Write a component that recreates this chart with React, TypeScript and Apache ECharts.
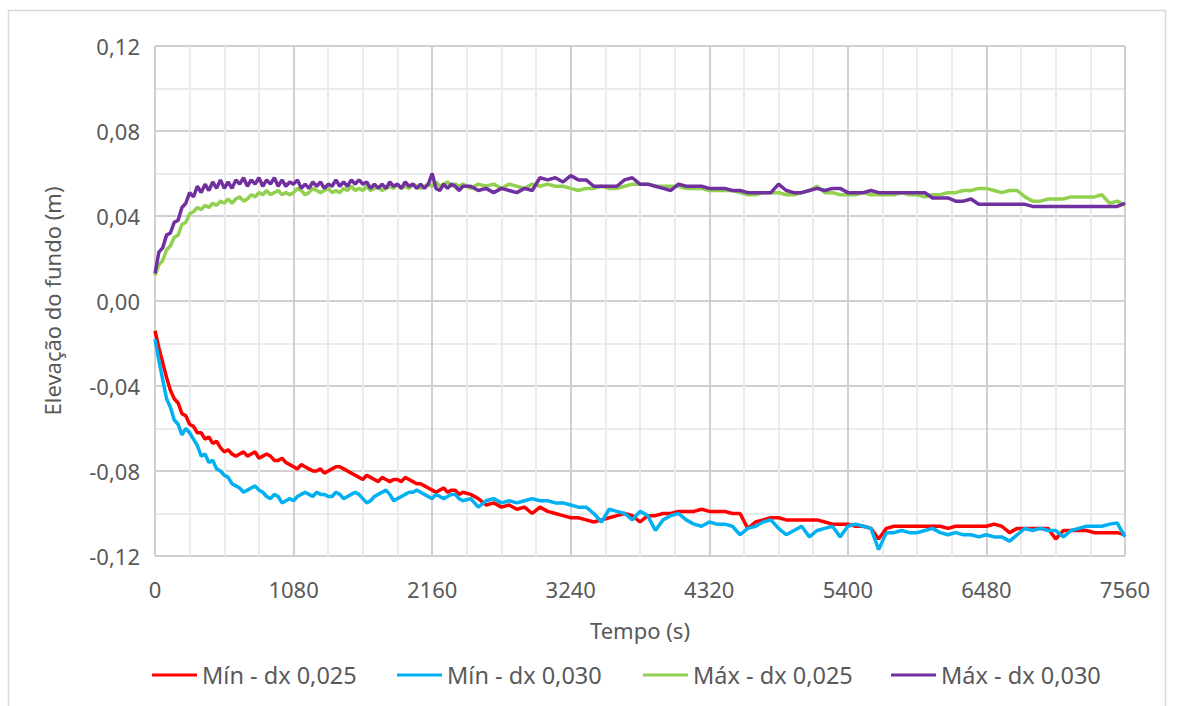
import React, { useEffect, useRef } from "react";
import * as echarts from "echarts";

const times = [
  0, 30, 60, 90, 120, 150, 180, 210, 240, 270, 300, 330, 360, 390, 420, 450, 480, 510, 540, 570, 600,
  630, 660, 690, 720, 750, 780, 810, 840, 870, 900,
  930, 960, 990, 1020, 1050, 1080, 1110, 1140, 1170, 1200,
  1230, 1260, 1290, 1320, 1350, 1380, 1410, 1440, 1470, 1500,
  1530, 1560, 1590, 1620, 1650, 1680, 1710, 1740, 1770, 1800,
  1830, 1860, 1890, 1920, 1950, 1980, 2010, 2040, 2070, 2100,
  2130, 2160, 2190, 2220, 2250, 2280, 2310, 2340, 2370, 2400,
  2460, 2520, 2580, 2640, 2700, 2760, 2820,
  2880, 2940, 3000, 3060, 3120, 3180, 3240, 3300, 3360, 3420, 3480, 3540, 3600, 3660, 3720, 3780, 3840, 3900,
  3960, 4020, 4080, 4140, 4200, 4260, 4320, 4380, 4440, 4500, 4560, 4620, 4680, 4740, 4800, 4860, 4920, 4980,
  5040, 5100, 5160, 5220, 5280, 5340, 5400, 5460, 5520, 5580, 5640, 5700, 5760, 5820, 5880, 5940, 6000, 6060,
  6120, 6180, 6240, 6300, 6360, 6420, 6480, 6540, 6600, 6660, 6720, 6780, 6840, 6900, 6960, 7020, 7080, 7140,
  7200, 7260, 7320, 7380, 7440, 7500, 7560,
];

const minDx025 = [
  -0.014, -0.022, -0.029, -0.036, -0.042, -0.046, -0.048, -0.053, -0.054, -0.058, -0.059, -0.062, -0.062, -0.065, -0.064, -0.067, -0.066, -0.069, -0.071, -0.07, -0.072,
  -0.073, -0.072, -0.071, -0.073, -0.072, -0.071, -0.074, -0.073, -0.072, -0.073,
  -0.075, -0.075, -0.074, -0.076, -0.077, -0.078, -0.079, -0.077, -0.078, -0.079,
  -0.08, -0.08, -0.079, -0.081, -0.08, -0.079, -0.078, -0.078, -0.079, -0.08,
  -0.081, -0.082, -0.083, -0.084, -0.082, -0.083, -0.084, -0.085, -0.083, -0.084,
  -0.085, -0.084, -0.084, -0.085, -0.083, -0.084, -0.085, -0.086, -0.086, -0.087,
  -0.088, -0.089, -0.09, -0.089, -0.088, -0.09, -0.089, -0.089, -0.091, -0.09,
  -0.091, -0.093, -0.096, -0.095, -0.097, -0.096, -0.098,
  -0.097, -0.1, -0.097, -0.099, -0.1, -0.101, -0.102, -0.102, -0.103, -0.104, -0.103, -0.102, -0.101, -0.1, -0.101, -0.104, -0.101, -0.101,
  -0.1, -0.1, -0.099, -0.099, -0.099, -0.098, -0.099, -0.099, -0.099, -0.1, -0.1, -0.107, -0.104, -0.103, -0.102, -0.102, -0.103, -0.103,
  -0.103, -0.103, -0.103, -0.104, -0.105, -0.105, -0.105, -0.106, -0.106, -0.107, -0.112, -0.107, -0.106, -0.106, -0.106, -0.106, -0.106, -0.106,
  -0.106, -0.107, -0.106, -0.106, -0.106, -0.106, -0.106, -0.105, -0.106, -0.109, -0.107, -0.107, -0.107, -0.107, -0.107, -0.112, -0.108, -0.108,
  -0.108, -0.108, -0.109, -0.109, -0.109, -0.109, -0.11,
];

const minDx030 = [
  -0.018, -0.028, -0.037, -0.046, -0.05, -0.056, -0.058, -0.063, -0.06, -0.062, -0.065, -0.068, -0.073, -0.072, -0.076, -0.075, -0.079, -0.08, -0.082, -0.083, -0.086,
  -0.087, -0.088, -0.09, -0.089, -0.088, -0.087, -0.089, -0.09, -0.092, -0.093,
  -0.091, -0.092, -0.095, -0.094, -0.093, -0.094, -0.092, -0.091, -0.09, -0.091,
  -0.092, -0.09, -0.091, -0.091, -0.092, -0.092, -0.09, -0.091, -0.093, -0.092,
  -0.091, -0.09, -0.091, -0.093, -0.095, -0.094, -0.092, -0.091, -0.09, -0.089,
  -0.091, -0.094, -0.093, -0.092, -0.091, -0.09, -0.09, -0.089, -0.09, -0.091,
  -0.092, -0.093, -0.091, -0.092, -0.093, -0.092, -0.091, -0.091, -0.093, -0.094,
  -0.093, -0.097, -0.094, -0.093, -0.095, -0.094, -0.095,
  -0.094, -0.093, -0.094, -0.094, -0.095, -0.095, -0.096, -0.097, -0.097, -0.1, -0.104, -0.098, -0.099, -0.1, -0.103, -0.099, -0.101, -0.108,
  -0.103, -0.101, -0.1, -0.103, -0.105, -0.106, -0.104, -0.105, -0.105, -0.106, -0.11, -0.107, -0.106, -0.104, -0.103, -0.107, -0.11, -0.108,
  -0.106, -0.111, -0.108, -0.107, -0.106, -0.111, -0.106, -0.105, -0.106, -0.107, -0.117, -0.109, -0.109, -0.108, -0.109, -0.109, -0.108, -0.107,
  -0.109, -0.11, -0.109, -0.11, -0.11, -0.111, -0.11, -0.111, -0.111, -0.113, -0.11, -0.107, -0.108, -0.107, -0.108, -0.108, -0.111, -0.108,
  -0.107, -0.106, -0.106, -0.106, -0.105, -0.1045, -0.111,
];

const maxDx025 = [
  0.012, 0.017, 0.019, 0.024, 0.026, 0.03, 0.031, 0.036, 0.037, 0.041, 0.042, 0.044, 0.043, 0.045, 0.044, 0.046, 0.045, 0.047, 0.046, 0.048, 0.046,
  0.048, 0.049, 0.047, 0.048, 0.05, 0.049, 0.051, 0.05, 0.052, 0.05,
  0.051, 0.052, 0.05, 0.051, 0.05, 0.051, 0.053, 0.052, 0.05, 0.051,
  0.053, 0.052, 0.051, 0.052, 0.053, 0.051, 0.052, 0.051, 0.053, 0.052,
  0.054, 0.052, 0.053, 0.052, 0.054, 0.052, 0.053, 0.054, 0.052, 0.053,
  0.054, 0.053, 0.055, 0.053, 0.054, 0.053, 0.055, 0.054, 0.053, 0.054,
  0.055, 0.054, 0.056, 0.054, 0.055, 0.056, 0.054, 0.055, 0.054, 0.055,
  0.053, 0.055, 0.054, 0.055, 0.053, 0.055, 0.054,
  0.053, 0.055, 0.054, 0.055, 0.054, 0.054, 0.053, 0.052, 0.053, 0.053, 0.054, 0.053, 0.053, 0.054, 0.055, 0.055, 0.055, 0.054,
  0.054, 0.054, 0.054, 0.053, 0.053, 0.053, 0.052, 0.052, 0.052, 0.052, 0.051, 0.05, 0.05, 0.051, 0.051, 0.051, 0.05, 0.05,
  0.051, 0.052, 0.054, 0.051, 0.051, 0.05, 0.05, 0.05, 0.051, 0.05, 0.05, 0.05, 0.05, 0.051, 0.05, 0.05, 0.049, 0.05,
  0.05, 0.051, 0.051, 0.052, 0.052, 0.053, 0.053, 0.052, 0.051, 0.052, 0.052, 0.049, 0.047, 0.047, 0.048, 0.048, 0.048, 0.049,
  0.049, 0.049, 0.049, 0.05, 0.046, 0.047, 0.045,
];

const maxDx030 = [
  0.013, 0.023, 0.025, 0.031, 0.032, 0.037, 0.038, 0.044, 0.046, 0.051, 0.049, 0.054, 0.051, 0.055, 0.052, 0.056, 0.053, 0.057, 0.053, 0.056, 0.053,
  0.057, 0.055, 0.058, 0.054, 0.057, 0.055, 0.058, 0.054, 0.057, 0.055,
  0.058, 0.054, 0.057, 0.054, 0.056, 0.055, 0.057, 0.053, 0.055, 0.053,
  0.056, 0.054, 0.056, 0.053, 0.055, 0.054, 0.057, 0.054, 0.056, 0.054,
  0.057, 0.055, 0.057, 0.055, 0.056, 0.053, 0.055, 0.053, 0.055, 0.053,
  0.056, 0.054, 0.055, 0.053, 0.056, 0.054, 0.055, 0.053, 0.055, 0.053,
  0.055, 0.06, 0.053, 0.052, 0.055, 0.053, 0.055, 0.054, 0.052, 0.054,
  0.054, 0.052, 0.053, 0.051, 0.053, 0.052, 0.051,
  0.053, 0.052, 0.058, 0.057, 0.058, 0.056, 0.059, 0.057, 0.057, 0.054, 0.054, 0.054, 0.054, 0.057, 0.058, 0.055, 0.055, 0.054,
  0.053, 0.052, 0.055, 0.054, 0.054, 0.054, 0.053, 0.053, 0.053, 0.052, 0.052, 0.051, 0.051, 0.051, 0.051, 0.055, 0.052, 0.051,
  0.051, 0.052, 0.053, 0.052, 0.053, 0.053, 0.051, 0.051, 0.051, 0.052, 0.051, 0.051, 0.051, 0.051, 0.051, 0.051, 0.051, 0.0485,
  0.0485, 0.0485, 0.047, 0.047, 0.048, 0.0455, 0.0455, 0.0455, 0.0455, 0.0455, 0.0455, 0.0455, 0.0445, 0.0445, 0.0445, 0.0445, 0.0445, 0.0445,
  0.0445, 0.0445, 0.0445, 0.0445, 0.0445, 0.0445, 0.046,
];

const seriesNames = ["Mín - dx 0,025", "Mín - dx 0,030", "Máx - dx 0,025", "Máx - dx 0,030"];
const seriesColors = ["#FF0000", "#00B0F0", "#92D050", "#7030A0"];
const seriesValues = [minDx025, minDx030, maxDx025, maxDx030];
const legendLefts = [152, 397, 643, 891];

const FONT = "'Noto Sans', sans-serif";
const TEXT_COLOR = "#595959";

export default function App() {
  const ref = useRef<HTMLDivElement>(null);

  useEffect(() => {
    if (!ref.current) return;
    const chart = echarts.init(ref.current, null, { renderer: "svg" });
    const fmtY = (v: number) => {
      const x = Math.abs(v) < 1e-9 ? 0 : v;
      return x.toFixed(2).replace(".", ",");
    };
    chart.setOption({
      animation: false,
      backgroundColor: "#ffffff",
      textStyle: { fontFamily: FONT },
      graphic: [
        {
          type: "rect",
          shape: { x: 8.5, y: 10.5, width: 1157, height: 700 },
          style: { fill: "none", stroke: "#d9d9d9", lineWidth: 1.5 },
          silent: true,
          z: -10,
        },
      ],
      grid: { left: 155, right: 55, top: 46, bottom: 150, containLabel: false, outerBoundsMode: "none" },
      legend: seriesNames.map((n, i) => ({
        data: [n],
        left: legendLefts[i],
        top: 661,
        padding: 0,
        icon: "rect",
        itemWidth: 45,
        itemHeight: 3,
        selectedMode: false,
        textStyle: { fontFamily: FONT, fontSize: 23.5, color: TEXT_COLOR, lineHeight: 28 },
      })),
      xAxis: {
        type: "value",
        min: 0,
        max: 7560,
        interval: 1080,
        name: "Tempo (s)",
        nameLocation: "middle",
        nameGap: 63,
        nameTextStyle: { fontFamily: FONT, fontSize: 22, color: TEXT_COLOR },
        axisLine: { show: false },
        axisTick: { show: false },
        axisLabel: {
          fontFamily: FONT,
          fontSize: 22,
          color: TEXT_COLOR,
          margin: 22,
          formatter: (v: number) => String(Math.round(v)),
        },
        splitLine: { show: true, lineStyle: { color: "#d0d0d0", width: 2 } },
        minorTick: { show: false, splitNumber: 4 },
        minorSplitLine: { show: true, lineStyle: { color: "#ebebeb", width: 2 } },
      },
      yAxis: {
        type: "value",
        min: -0.12,
        max: 0.12,
        interval: 0.04,
        name: "Elevação do fundo (m)",
        nameLocation: "middle",
        nameGap: 92,
        nameTextStyle: { fontFamily: FONT, fontSize: 22, color: TEXT_COLOR },
        axisLine: { show: false },
        axisTick: { show: false },
        axisLabel: { fontFamily: FONT, fontSize: 22, color: TEXT_COLOR, margin: 15, formatter: fmtY },
        splitLine: { show: true, lineStyle: { color: "#d0d0d0", width: 2 } },
        minorTick: { show: false, splitNumber: 2 },
        minorSplitLine: { show: true, lineStyle: { color: "#ebebeb", width: 2 } },
      },
      series: seriesNames.map((n, i) => ({
        name: n,
        type: "line",
        data: times.map((t, k) => [t, seriesValues[i][k]]),
        symbol: "none",
        showSymbol: false,
        color: seriesColors[i],
        lineStyle: { color: seriesColors[i], width: 3.5 },
        emphasis: { disabled: true },
      })),
    });
    return () => chart.dispose();
  }, []);

  return (
    <div
      ref={ref}
      style={{ position: "absolute", left: 0, top: 0, width: 1180, height: 706 }}
    />
  );
}
